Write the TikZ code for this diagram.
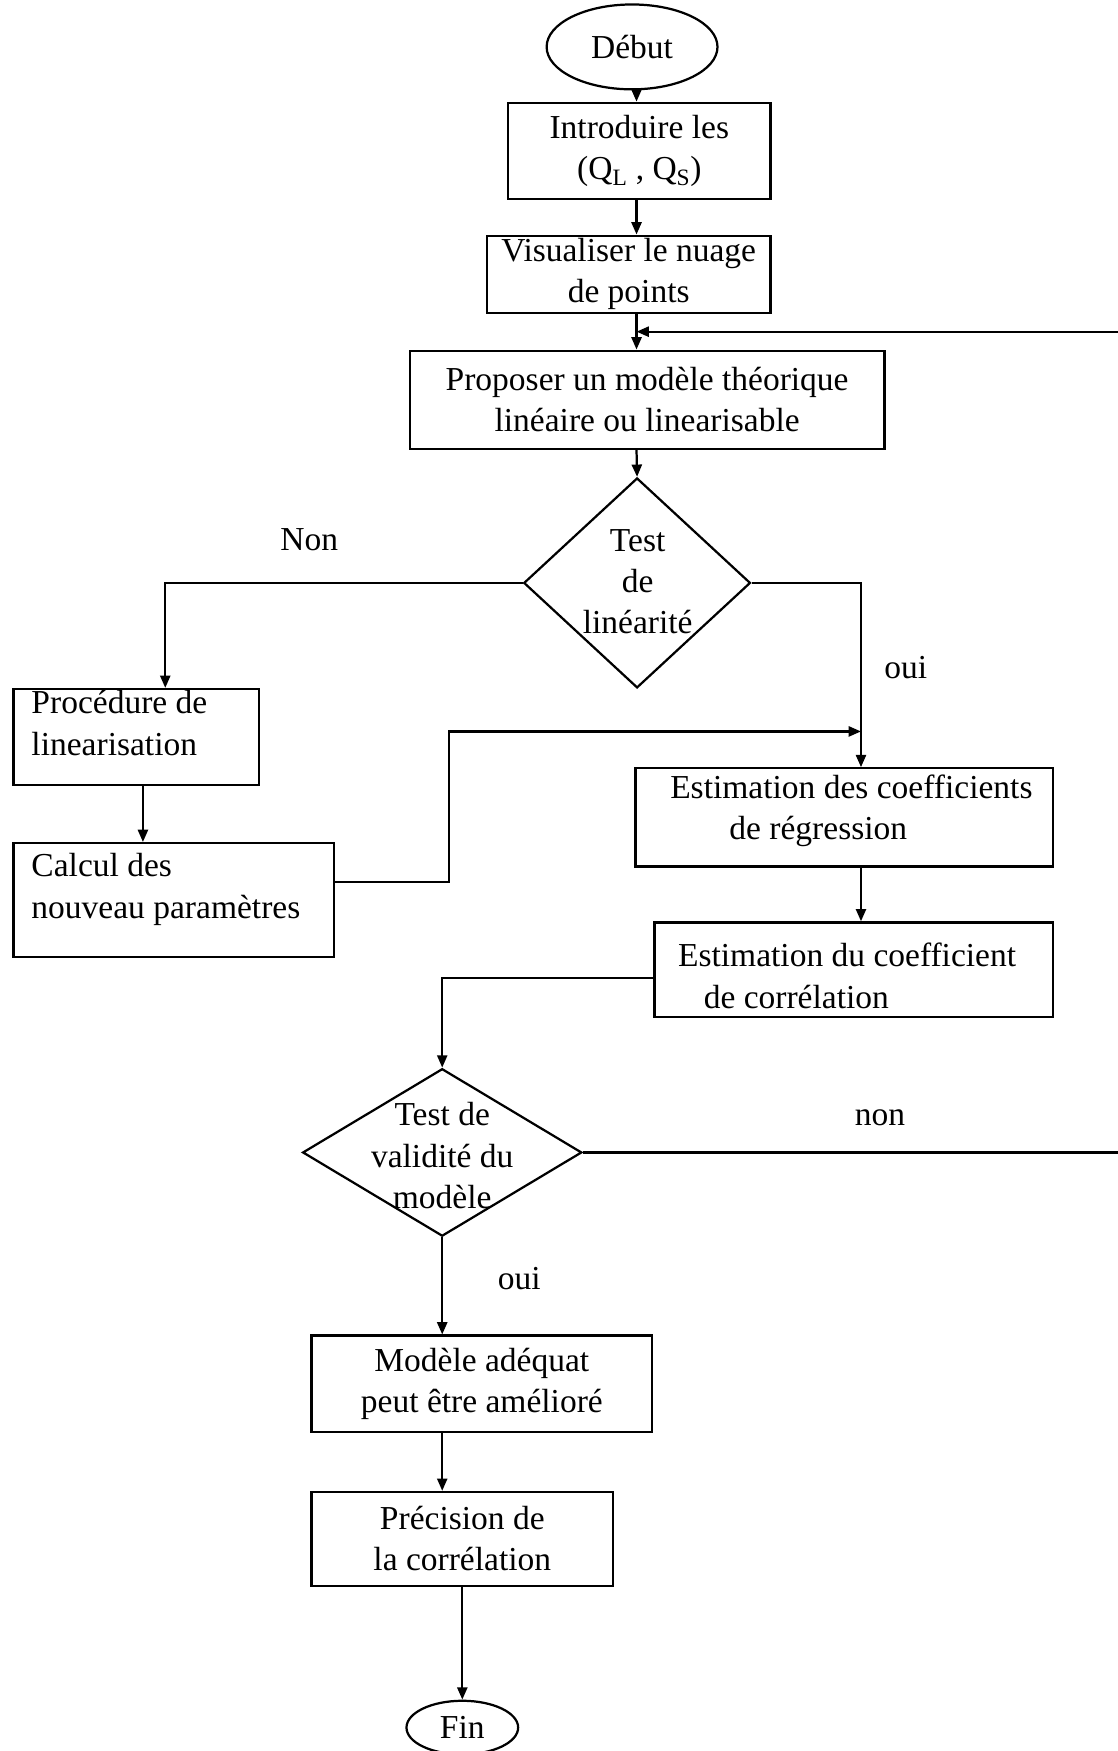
\documentclass[tikz,border=0pt]{standalone}
\usepackage{fontspec}
\setmainfont{Liberation Serif}
\usetikzlibrary{shapes.geometric,arrows.meta,calc}
\begin{document}
\begin{tikzpicture}[x=1pt,y=-1pt,
  every node/.style={font=\fontsize{30}{37}\selectfont},
  box/.style={draw, line width=2pt, rectangle, inner sep=0pt, align=center},
  term/.style={draw, line width=2pt, ellipse, inner sep=0pt},
  dia/.style={draw, line width=2pt, diamond, inner sep=0pt},
  txt/.style={inner sep=0pt, align=center},
  arr/.style={line width=2pt, -{Triangle[length=11pt,width=9pt]}},
  ln/.style={line width=2pt}]
\useasboundingbox (0,0) rectangle (1001,1568);
\coordinate (sp) at (570,0);
\coordinate (rtop) at (1004,297);
\coordinate (rbot) at (1004,1030);
\coordinate (j) at (771,655);

\node[term, minimum width=153pt, minimum height=76pt] (debut) at (566,42) {Début};
\node[box, minimum width=235pt, minimum height=86pt] (intro) at (572.5,135) {Introduire les\\(Q\textsubscript{L} , Q\textsubscript{S})};
\node[box, minimum width=254pt, minimum height=69pt] (visu) at (563,245.5) {Visualiser le nuage\\de points};
\node[box, minimum width=425pt, minimum height=88pt] (prop) at (579.5,358) {Proposer un modèle théorique\\linéaire ou linearisable};
\node[dia, minimum width=203pt, minimum height=188pt] (d1) at (570.5,522) {};
\node[txt] (d1t) at (571,521) {Test\\de\\linéarité};
\node[box, minimum width=220pt, minimum height=86pt] (proc) at (122,660) {};
\node[txt, anchor=west, align=left] (proct) at (28,647.5) {Procédure de\\linearisation};
\node[box, minimum width=287pt, minimum height=102pt] (calc) at (155.5,806) {};
\node[txt, anchor=west, align=left] (calct) at (28,796.5) {Calcul des\\nouveau paramètres};
\node[box, minimum width=374pt, minimum height=88pt] (estc) at (756,732) {};
\node[txt, anchor=west, align=left] (estct) at (600,726) {Estimation des coefficients\\\hspace*{53pt}de régression};
\node[box, minimum width=357pt, minimum height=85pt] (estr) at (764.5,868.5) {};
\node[txt, anchor=west, align=left] (estrt) at (607,874) {Estimation du coefficient\\\hspace*{23pt}de corrélation};
\node[dia, minimum width=250pt, minimum height=150pt] (d2) at (396,1032) {};
\node[txt] (d2t) at (396,1035) {Test de\\validité du\\modèle};
\node[box, minimum width=305pt, minimum height=86pt] (mod) at (431.5,1239) {Modèle adéquat\\peut être amélioré};
\node[box, minimum width=270pt, minimum height=84pt] (prec) at (414,1378) {Précision de\\la corrélation};
\node[term, minimum width=100pt, minimum height=48pt] (fin) at (414,1547) {Fin};

\node (lnon1) at (277,483) {Non};
\node (loui1) at (811,598) {oui};
\node (lnon2) at (788,1001) {non};
\node (loui2) at (465,1145) {oui};

\draw[arr] (sp |- debut.south) -- (sp |- intro.north);
\draw[arr] (sp |- intro.south) -- (sp |- visu.north);
\draw[arr] (sp |- visu.south) -- (sp |- prop.north);
\draw[arr] (rtop) -- (sp |- rtop);
\draw[arr] (sp |- prop.south) -- (d1.north);
\draw[arr] (d1.west) -| ([xshift=26pt]proc.north);
\draw[arr] (d1.east) -| (j) -- (j |- estc.north);
\draw[arr] ([xshift=6pt]proc.south) -- ([xshift=6pt]proc.south |- calc.north);
\draw[arr] ([yshift=16pt]calc.east) -- ++(102,0) |- (j);
\draw[arr] (j |- estc.south) -- (j |- estr.north);
\draw[arr] ([yshift=-7.5pt]estr.west) -| (d2.north);
\draw[ln] (d2.east) -- (d2.east -| rbot);
\draw[arr] (d2.south) -- (d2.south |- mod.north);
\draw[arr] (d2.south |- mod.south) -- (d2.south |- prec.north);
\draw[arr] (prec.south) -- (fin.north);
\end{tikzpicture}
\end{document}
